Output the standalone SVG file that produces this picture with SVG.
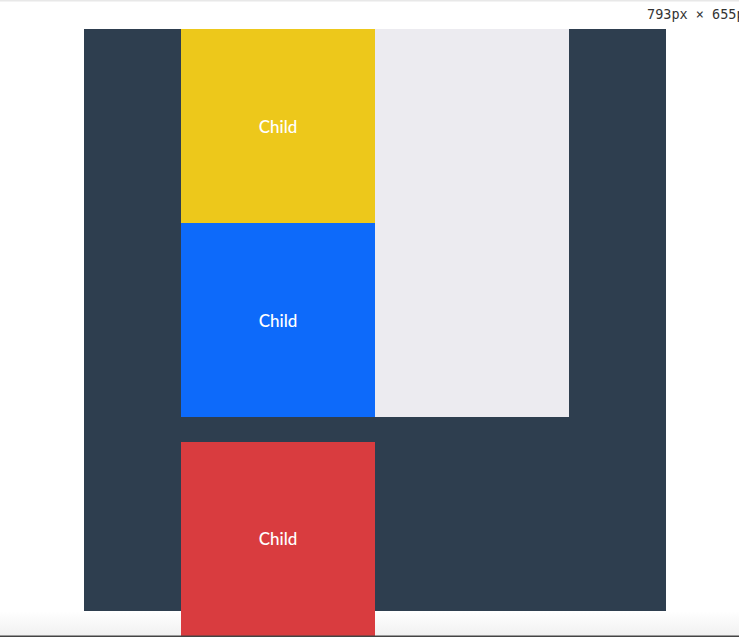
<svg xmlns="http://www.w3.org/2000/svg" width="739" height="637" viewBox="0 0 739 637">
<style>
.lbl{font-family:Lato,"Liberation Sans",sans-serif;font-size:17px;font-weight:500;fill:#ffffff;text-anchor:middle;dominant-baseline:central}
.dim{font-family:"DejaVu Sans Mono","Liberation Mono",monospace;font-size:13.5px;fill:#333333}
</style>
<defs>
<linearGradient id="fade" x1="0" y1="0" x2="0" y2="1">
<stop offset="0" stop-color="#ffffff"/>
<stop offset="1" stop-color="#f0f0f0"/>
</linearGradient>
</defs>
<rect x="0" y="0" width="739" height="637" fill="#ffffff"/>
<rect x="0" y="0" width="739" height="1.5" fill="#e8e8e8"/>
<rect x="0" y="611" width="739" height="26" fill="url(#fade)"/>
<text class="dim" x="647" y="19">793px × 655p</text>
<g id="container">
<rect x="84" y="29" width="582" height="582" fill="#2e3e4f"/>
</g>
<g id="panel">
<rect x="375" y="29" width="194" height="388" fill="#ecebf0"/>
</g>
<g id="child-yellow">
<rect x="181" y="29" width="194" height="194" fill="#edc81b"/>
<text class="lbl" x="278" y="126">Child</text>
</g>
<g id="child-blue">
<rect x="181" y="223" width="194" height="194" fill="#0d6afa"/>
<text class="lbl" x="278" y="320">Child</text>
</g>
<g id="child-red">
<rect x="181" y="442" width="194" height="195" fill="#d93c3f"/>
<text class="lbl" x="278" y="538">Child</text>
</g>
<g id="connectors"></g>
<rect x="0" y="635.5" width="739" height="1.5" fill="#444444"/>
</svg>
